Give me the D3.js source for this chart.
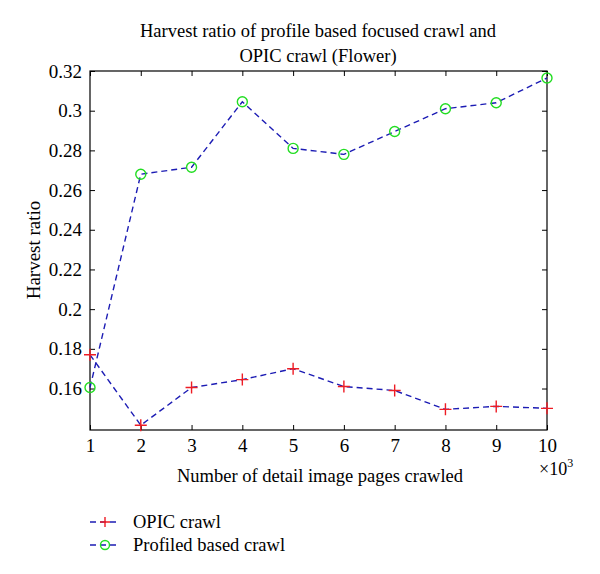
<!DOCTYPE html>
<html><head><meta charset="utf-8">
<script src="https://cdn.jsdelivr.net/npm/d3@7"></script>
<style>body{margin:0;background:#fff;} svg{display:block;}</style>
</head><body>
<script>
const xValues = [1,2,3,4,5,6,7,8,9,10];
const opicValues = [0.177,0.1415,0.1605,0.1645,0.170,0.161,0.159,0.1495,0.151,0.150];
const profiledValues = [0.1605,0.268,0.2715,0.3045,0.281,0.278,0.2895,0.301,0.304,0.3165];
const yTicks = [0.16,0.18,0.2,0.22,0.24,0.26,0.28,0.3,0.32];
const yTickLabels = ["0.16","0.18","0.2","0.22","0.24","0.26","0.28","0.3","0.32"];
const xTicks = [1,2,3,4,5,6,7,8,9,10];
const seriesNames = ["OPIC crawl","Profiled based crawl"];

const W=600,H=574;
const m={l:90,r:53,t:71,b:144};
const FONT='"Liberation Serif","DejaVu Serif",serif';
const svg=d3.select("body").append("svg").attr("width",W).attr("height",H);
const x=d3.scaleLinear().domain([1,10]).range([m.l,W-m.r]);
const y=d3.scaleLinear().domain([0.1391,0.32]).range([H-m.b,m.t]);
const blue="#1c1cb4", red="#ee1c24", green="#22dd22";

// box
svg.append("rect").attr("x",x(1)).attr("y",y(0.32)).attr("width",x(10)-x(1)).attr("height",y(0.1391)-y(0.32))
  .attr("fill","none").attr("stroke","#000").attr("stroke-width",1.2);

// axes with inner ticks
const xb=svg.append("g").attr("transform",`translate(0,${y(0.1391)})`)
  .call(d3.axisBottom(x).tickValues(xTicks).tickSizeInner(-5).tickSizeOuter(0).tickPadding(9).tickFormat(d3.format("d")));
const xt=svg.append("g").attr("transform",`translate(0,${y(0.32)})`)
  .call(d3.axisTop(x).tickValues(xTicks).tickSizeInner(-5).tickSizeOuter(0).tickFormat(""));
const yl=svg.append("g").attr("transform",`translate(${x(1)},0)`)
  .call(d3.axisLeft(y).tickValues(yTicks).tickSizeInner(-5).tickSizeOuter(0).tickPadding(8).tickFormat((d,i)=>yTickLabels[i]));
const yr=svg.append("g").attr("transform",`translate(${x(10)},0)`)
  .call(d3.axisRight(y).tickValues(yTicks).tickSizeInner(-5).tickSizeOuter(0).tickFormat(""));
[xb,xt,yl,yr].forEach(g=>{
  g.select(".domain").remove();
  g.selectAll(".tick line").attr("stroke","#000").attr("stroke-width",1);
  g.selectAll("text").attr("font-family",FONT).attr("font-size",19).attr("fill","#000");
});
xb.selectAll("text").attr("dy","0.71em");

// x10^3
const ex=svg.append("text").attr("x",x(10)-8).attr("y",y(0.1391)+45).attr("font-family",FONT).attr("font-size",18);
ex.append("tspan").text("×10");
ex.append("tspan").attr("dy",-8).attr("font-size",12).text("3");

// lines
const line=d3.line().x((d,i)=>x(xValues[i])).y(d=>y(d));
[opicValues,profiledValues].forEach(vals=>{
  svg.append("path").datum(vals).attr("d",line).attr("fill","none").attr("stroke",blue)
    .attr("stroke-width",1.4).attr("stroke-dasharray","6,4");
});
// markers
svg.append("g").selectAll("path").data(opicValues).join("path")
  .attr("d",(d,i)=>`M${x(xValues[i])-6},${y(d)}H${x(xValues[i])+6}M${x(xValues[i])},${y(d)-6}V${y(d)+6}`)
  .attr("stroke",red).attr("stroke-width",1.4);
svg.append("g").selectAll("circle").data(profiledValues).join("circle")
  .attr("cx",(d,i)=>x(xValues[i])).attr("cy",d=>y(d)).attr("r",5)
  .attr("fill","none").attr("stroke",green).attr("stroke-width",1.4);

// titles
const t=svg.append("text").attr("x",318).attr("y",37).attr("text-anchor","middle").attr("font-family",FONT).attr("font-size",18.5);
t.append("tspan").attr("x",318).text("Harvest ratio of profile based focused crawl and");
t.append("tspan").attr("x",318).attr("dy",25).text("OPIC crawl (Flower)");
svg.append("text").attr("x",320).attr("y",482).attr("text-anchor","middle").attr("font-family",FONT).attr("font-size",18.5).text("Number of detail image pages crawled");
svg.append("text").attr("transform",`translate(40,250) rotate(-90)`).attr("text-anchor","middle").attr("font-family",FONT).attr("font-size",19).text("Harvest ratio");

// legend
const leg=svg.append("g");
seriesNames.forEach((n,i)=>{
  const ly=522+i*23;
  leg.append("line").attr("x1",90).attr("x2",120).attr("y1",ly).attr("y2",ly).attr("stroke",blue).attr("stroke-width",1.4).attr("stroke-dasharray","6,4");
  if(i===0){
    leg.append("path").attr("d",`M100,${ly}H110M105,${ly-5}V${ly+5}`).attr("stroke",red).attr("stroke-width",1.4);
  } else {
    leg.append("circle").attr("cx",105).attr("cy",ly).attr("r",4.5).attr("fill","none").attr("stroke",green).attr("stroke-width",1.4);
  }
  leg.append("text").attr("x",133).attr("y",ly+6).attr("font-family",FONT).attr("font-size",18.5).text(n);
});
</script>
</body></html>
